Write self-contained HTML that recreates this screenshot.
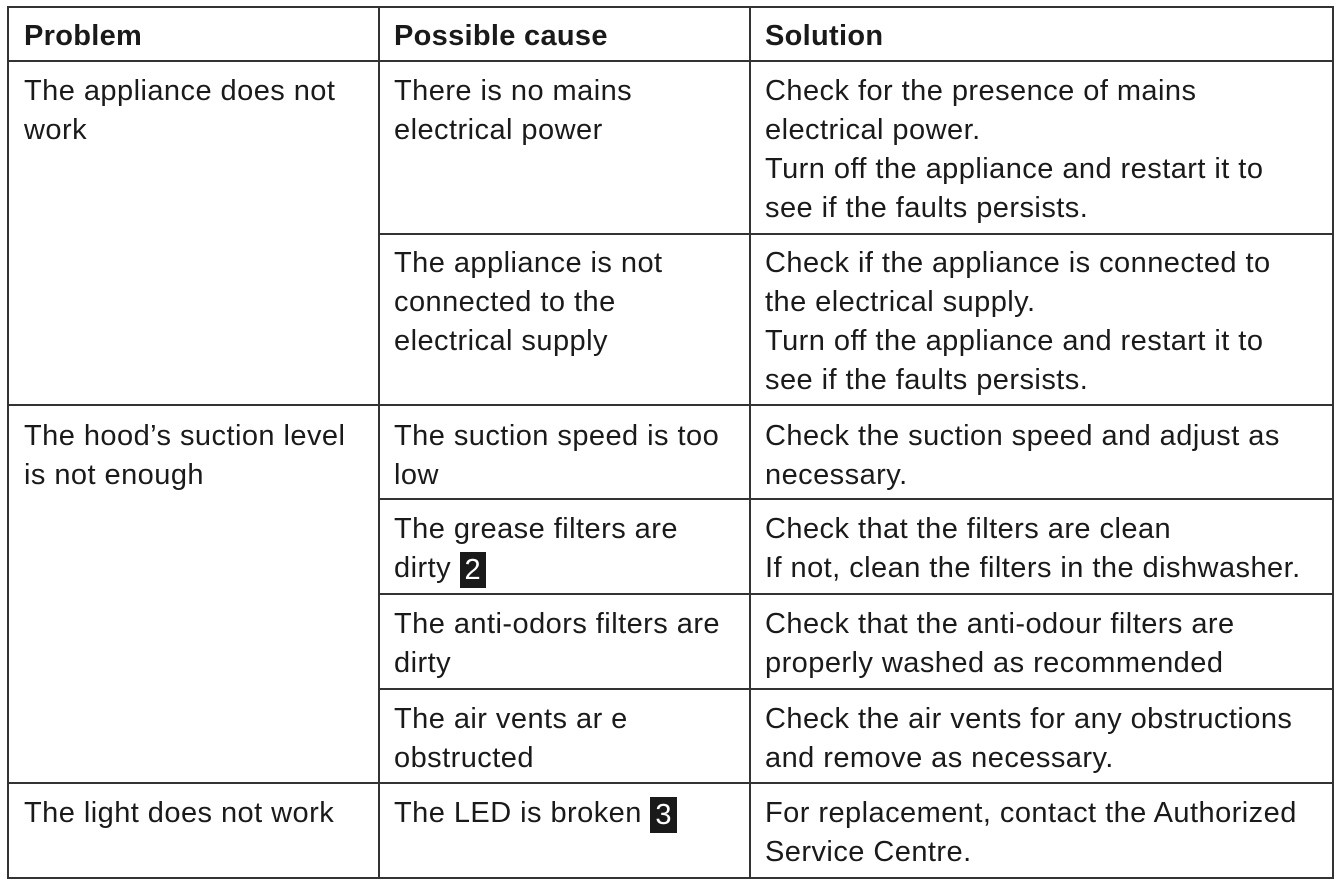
<!DOCTYPE html>
<html><head><style>
body{margin:0;width:1342px;height:887px;background:#fff;position:relative;overflow:hidden;font-family:"Liberation Sans",sans-serif;color:#1a1a1a}
.h{position:absolute;height:2px;background:#333}
.v{position:absolute;width:2px;background:#333}
.t{position:absolute;font-size:29px;line-height:39px;white-space:nowrap;letter-spacing:0.45px;margin-top:2px}
.b{font-weight:bold;font-size:29px;letter-spacing:0.3px}
.n{display:inline-block;background:#1a1a1a;color:#fff;padding:0 5px;line-height:36px;font-size:29px;vertical-align:-2px}
</style></head><body>
<div class="h" style="left:7px;width:1327px;top:6px"></div>
<div class="h" style="left:7px;width:1327px;top:60px"></div>
<div class="h" style="left:378px;width:956px;top:233px"></div>
<div class="h" style="left:7px;width:1327px;top:404px"></div>
<div class="h" style="left:378px;width:956px;top:498px"></div>
<div class="h" style="left:378px;width:956px;top:593px"></div>
<div class="h" style="left:378px;width:956px;top:688px"></div>
<div class="h" style="left:7px;width:1327px;top:782px"></div>
<div class="h" style="left:7px;width:1327px;top:877px"></div>
<div class="v" style="left:7px;top:6px;height:873px"></div>
<div class="v" style="left:378px;top:6px;height:873px"></div>
<div class="v" style="left:749px;top:6px;height:873px"></div>
<div class="v" style="left:1332px;top:6px;height:873px"></div>

<div class="t b" style="left:24px;top:15px">Problem</div>
<div class="t b" style="left:394px;top:15px">Possible cause</div>
<div class="t b" style="left:765px;top:15px">Solution</div>

<div class="t" style="left:24px;top:70px">The appliance does not<br>work</div>
<div class="t" style="left:394px;top:70px">There is no mains<br>electrical power</div>
<div class="t" style="left:765px;top:70px">Check for the presence of mains<br>electrical power.<br>Turn off the appliance and restart it to<br>see if the faults persists.</div>

<div class="t" style="left:394px;top:242px">The appliance is not<br>connected to the<br>electrical supply</div>
<div class="t" style="left:765px;top:242px">Check if the appliance is connected to<br>the electrical supply.<br>Turn off the appliance and restart it to<br>see if the faults persists.</div>

<div class="t" style="left:24px;top:415px">The hood’s suction level<br>is not enough</div>
<div class="t" style="left:394px;top:415px">The suction speed is too<br>low</div>
<div class="t" style="left:765px;top:415px">Check the suction speed and adjust as<br>necessary.</div>

<div class="t" style="left:394px;top:508px">The grease filters are<br>dirty <span class="n">2</span></div>
<div class="t" style="left:765px;top:508px">Check that the filters are clean<br>If not, clean the filters in the dishwasher.</div>

<div class="t" style="left:394px;top:603px">The anti-odors filters are<br>dirty</div>
<div class="t" style="left:765px;top:603px">Check that the anti-odour filters are<br>properly washed as recommended</div>

<div class="t" style="left:394px;top:698px">The air vents ar e<br>obstructed</div>
<div class="t" style="left:765px;top:698px">Check the air vents for any obstructions<br>and remove as necessary.</div>

<div class="t" style="left:24px;top:792px">The light does not work</div>
<div class="t" style="left:394px;top:792px">The LED is broken <span class="n">3</span></div>
<div class="t" style="left:765px;top:792px">For replacement, contact the Authorized<br>Service Centre.</div>
</body></html>
